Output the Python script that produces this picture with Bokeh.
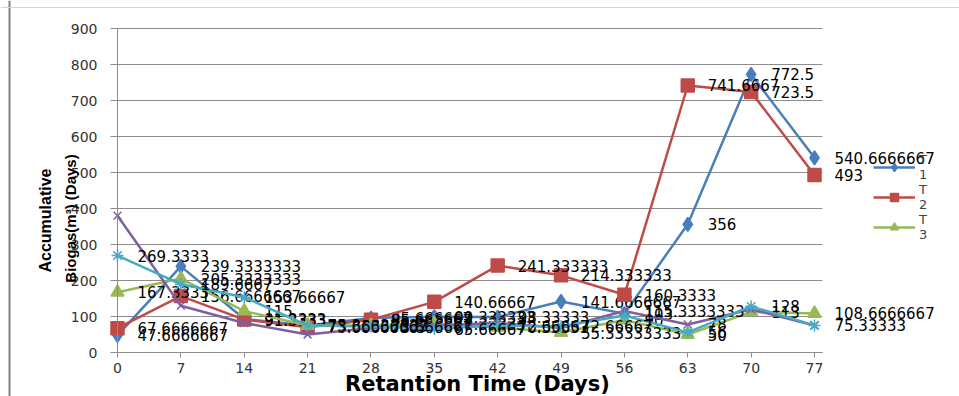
import math
from bokeh.plotting import figure
from bokeh.models import (ColumnDataSource, FixedTicker, Range1d, Legend, LegendItem, Label, Span)
from bokeh.core.properties import value
from bokeh.embed import file_html
from bokeh.resources import INLINE

days = [0, 7, 14, 21, 28, 35, 42, 49, 56, 63, 70, 77]
t1 = [47.6666667, 239.3333333, 93, 75.3333333, 95.6666667, 99.3333333, 98.3333333, 141.6666667, 108, 356, 772.5, 540.6666667]
t2 = [67.6666667, 156.6666667, 91.3333333, 70, 91, 140.66667, 241.333333, 214.333333, 160.3333, 741.6667, 723.5, 493]
t3 = [167.3333, 205.3333333, 115, 75, 75.6666667, 80, 70, 55.3333333, 90, 50, 113, 108.6666667]
t4 = [380, 130, 82, 50, 68, 75, 82, 68, 115.3333333, 78, 120, 75]
t5 = [269.3333, 189.6667, 153.66667, 75, 72, 65.66667, 75, 72.66667, 103, 56, 128, 75.33333]

l1 = ["47.6666667", "239.3333333", "91.3333", "75.33333333", "95.666667", "99.333333", "98.33333", "141.6666667", "103", "356", "772.5", "540.6666667"]
l2 = ["67.6666667", "156.6666667", "91.3333", "73.66666667", "85.666667", "140.66667", "241.333333", "214.333333", "160.3333", "741.6667", "723.5", "493"]
l3 = ["167.3333", "205.3333333", "115", "75.33333333", "75.666667", "79.33333", "70.33333", "55.33333333", "90", "50", "113", "108.6666667"]
l4 = ["", "", "", "", "", "", "", "", "115.3333333", "78", "", ""]
l5 = ["269.3333", "189.6667", "153.66667", "73.66666667", "73.666667", "65.66667", "72.66667", "72.66667", "", "56", "128", "75.33333"]

legend_labels = ["T\n1", "T\n2", "T\n3"]
y_ticks = [0, 100, 200, 300, 400, 500, 600, 700, 800, 900]

colors = ["#4a7ebb", "#be4b48", "#98b954", "#7d60a0", "#46aac5"]
markers = ["diamond", "square", "triangle", "x", "asterisk"]
msizes = [14, 13, 13, 11, 12]

# layout: pixel geometry of the plotting area on the 959x396 canvas
W, H = 959, 396
X0PX, XPX_PER_DAY = 117, 9.052
Y0PX, YPX_PER_UNIT = 352, 0.36


def xd(px):
    return (px - X0PX) / XPX_PER_DAY


def yd(py):
    return (Y0PX - py) / YPX_PER_UNIT


X_END = xd(822)

p = figure(width=W, height=H, output_backend="svg", toolbar_location=None,
           x_range=Range1d(xd(0), xd(W)), y_range=Range1d(yd(H), yd(0)),
           min_border=0)
p.outline_line_color = None
p.xgrid.visible = False
p.ygrid.visible = False

# horizontal gridlines from the tick values
p.segment(x0=[0] * len(y_ticks), x1=[X_END] * len(y_ticks), y0=y_ticks, y1=y_ticks,
          line_color="#8c8c8c", line_width=1)

p.xaxis.fixed_location = 0
p.yaxis.fixed_location = 0
p.xaxis.bounds = (0, X_END)
p.yaxis.bounds = (0, 900)
p.yaxis.ticker = FixedTicker(ticks=y_ticks)
p.xaxis.ticker = FixedTicker(ticks=days)
for ax in (p.xaxis, p.yaxis):
    ax.axis_line_color = "#8c8c8c"
    ax.major_tick_line_color = "#8c8c8c"
    ax.minor_tick_line_color = None
    ax.major_tick_in = 0
    ax.major_label_text_font = "DejaVu Sans"
    ax.major_label_text_font_size = "14px"
    ax.major_label_text_color = "#333333"
p.yaxis.major_tick_out = 7
p.yaxis.major_label_standoff = 13
p.xaxis.major_tick_out = 5
p.xaxis.major_label_standoff = 5

# frame lines of the original picture
p.add_layout(Span(location=xd(9), dimension="height", line_color="#808080", line_width=2))
p.add_layout(Span(location=yd(7), dimension="width", line_color="#d4d4d4", line_width=1))

all_vals = [t1, t2, t3, t4, t5]
all_labels = [l1, l2, l3, l4, l5]
items = []
for i in range(5):
    src = ColumnDataSource(dict(x=days, y=all_vals[i], lab=all_labels[i]))
    ln = p.line("x", "y", source=src, line_color=colors[i], line_width=2.5)
    mk = p.scatter("x", "y", source=src, marker=markers[i], size=msizes[i],
                   fill_color=colors[i], line_color=colors[i], line_width=1.5)
    p.text("x", "y", text="lab", source=src, x_offset=20, text_baseline="middle",
           text_align="left", text_font=value("DejaVu Sans"), text_font_size="15px",
           text_color="#000000")
    if i < 3:
        items.append(LegendItem(label=legend_labels[i], renderers=[ln, mk]))

legend = Legend(items=items, location=(873, 154), orientation="vertical",
                background_fill_alpha=0, border_line_alpha=0, padding=0, spacing=0,
                glyph_width=42, glyph_height=20, label_standoff=4,
                label_text_font="DejaVu Sans", label_text_font_size="13px",
                label_text_line_height=1.15, margin=0)
p.add_layout(legend, "center")

p.add_layout(Label(x=xd(45), y=yd(220), text="Accumulative",
                   angle=math.pi / 2, text_align="center", text_baseline="middle",
                   text_font="Liberation Sans", text_font_style="bold",
                   text_font_size="16px", text_color="#000000"))
p.add_layout(Label(x=xd(70), y=yd(218), text="Biogas(m³) (Days)",
                   angle=math.pi / 2, text_align="center", text_baseline="middle",
                   text_font="Liberation Sans", text_font_style="bold",
                   text_font_size="15px", text_color="#000000"))
p.add_layout(Label(x=xd(477), y=yd(383), text="Retantion Time (Days)",
                   text_align="center", text_baseline="middle",
                   text_font="DejaVu Sans", text_font_style="bold",
                   text_font_size="21px", text_color="#000000"))

open("out.html", "w").write(file_html(p, INLINE))
